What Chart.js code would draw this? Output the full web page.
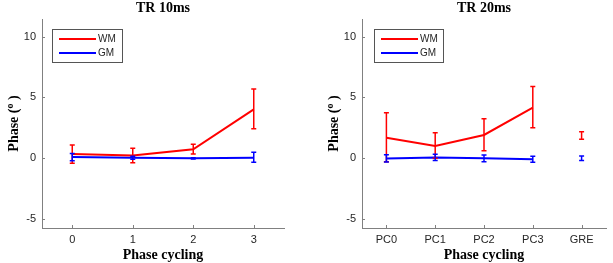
<!DOCTYPE html>
<html>
<head>
<meta charset="utf-8">
<script src="https://cdn.jsdelivr.net/npm/chart.js@4.4.0/dist/chart.umd.min.js"></script>
<style>
  html, body { margin: 0; padding: 0; background: #fff; }
  .wrap { position: absolute; top: 0; height: 263px; }
  #left { left: 0; width: 300px; }
  #right { left: 300px; width: 313px; }
</style>
</head>
<body>
<div class="wrap" id="left"><canvas id="c10"></canvas></div>
<div class="wrap" id="right"><canvas id="c20"></canvas></div>
<script>
// TR 10ms
const tr10Labels = ['0', '1', '2', '3'];
const tr10WM = [0.33, 0.2, 0.72, 4.01];
const tr10WMHi = [1.07, 0.8, 1.13, 5.69];
const tr10WMLo = [-0.44, -0.39, 0.33, 2.42];
const tr10GM = [0.08, 0.02, -0.03, 0.02];
const tr10GMHi = [0.38, 0.15, 0.02, 0.47];
const tr10GMLo = [-0.22, -0.1, -0.08, -0.35];

// TR 20ms
const tr20Labels = ['PC0', 'PC1', 'PC2', 'PC3', 'GRE'];
const tr20WM = [1.67, 1.0, 1.9, 4.15, 1.85];
const tr20WMHi = [3.73, 2.09, 3.24, 5.9, 2.17];
const tr20WMLo = [-0.3, -0.03, 0.6, 2.5, 1.54];
const tr20GM = [-0.05, 0.05, -0.03, -0.1, 0.0];
const tr20GMHi = [0.27, 0.3, 0.25, 0.15, 0.16];
const tr20GMLo = [-0.33, -0.2, -0.3, -0.35, -0.2];

const yTicks = [-5, 0, 5, 10];
const axisColor = '#808080';
const textColor = '#262626';

const errorBars = {
  id: 'errorBars',
  afterDatasetsDraw(chart, args, opts) {
    const { ctx } = chart;
    const x = chart.scales.x;
    const y = chart.scales.y;
    ctx.save();
    ctx.lineWidth = 1.5;
    opts.bars.forEach((b, di) => {
      ctx.strokeStyle = chart.data.datasets[di].borderColor;
      b.hi.forEach((hi, i) => {
        const px = x.getPixelForValue(i);
        const top = y.getPixelForValue(hi);
        const bot = y.getPixelForValue(b.lo[i]);
        ctx.beginPath();
        ctx.moveTo(px, top); ctx.lineTo(px, bot);
        ctx.moveTo(px - 2.5, top); ctx.lineTo(px + 2.5, top);
        ctx.moveTo(px - 2.5, bot); ctx.lineTo(px + 2.5, bot);
        ctx.stroke();
      });
    });
    ctx.restore();
  }
};

const decorations = {
  id: 'decorations',
  afterDraw(chart, args, opts) {
    const { ctx, chartArea } = chart;
    const x = chart.scales.x;
    const y = chart.scales.y;
    ctx.save();
    // inward tick marks
    ctx.strokeStyle = axisColor;
    ctx.lineWidth = 1;
    ctx.beginPath();
    x.ticks.forEach((t, i) => {
      const px = Math.round(x.getPixelForTick(i)) + 0.5;
      ctx.moveTo(px, chartArea.bottom); ctx.lineTo(px, chartArea.bottom - 3);
    });
    yTicks.forEach(v => {
      const py = Math.round(y.getPixelForValue(v)) + 0.5;
      ctx.moveTo(chartArea.left, py); ctx.lineTo(chartArea.left + 3, py);
    });
    ctx.stroke();

    // title
    const cx = (chartArea.left + chartArea.right) / 2;
    ctx.fillStyle = '#000';
    ctx.textAlign = 'center';
    ctx.textBaseline = 'middle';
    ctx.font = 'bold 14px "Liberation Serif"';
    ctx.fillText(opts.title, cx, 8);
    // x title
    ctx.fillText('Phase cycling', cx, 255);

    // y title, rotated, with superscript o
    ctx.save();
    ctx.translate(opts.yTitleX, (chartArea.top + chartArea.bottom) / 2);
    ctx.rotate(-Math.PI / 2);
    const a = 'Phase (';
    const c = ' )';
    ctx.font = 'bold 14px "Liberation Serif"';
    const wa = ctx.measureText(a).width;
    const wc = ctx.measureText(c).width;
    ctx.font = 'bold 10px "Liberation Serif"';
    const wb = ctx.measureText('o').width;
    let sx = -(wa + wb + wc) / 2;
    ctx.textAlign = 'left';
    ctx.font = 'bold 14px "Liberation Serif"';
    ctx.fillText(a, sx, 0);
    ctx.font = 'bold 10px "Liberation Serif"';
    ctx.fillText('o', sx + wa, -4);
    ctx.font = 'bold 14px "Liberation Serif"';
    ctx.fillText(c, sx + wa + wb, 0);
    ctx.restore();

    // legend
    const lg = opts.legend;
    ctx.fillStyle = '#fff';
    ctx.fillRect(lg.x, lg.y, lg.w, lg.h);
    ctx.strokeStyle = '#555';
    ctx.lineWidth = 1;
    ctx.strokeRect(lg.x + 0.5, lg.y + 0.5, lg.w, lg.h);
    ctx.font = '10px "Liberation Sans"';
    ctx.textAlign = 'left';
    ctx.textBaseline = 'middle';
    chart.data.datasets.forEach((ds, i) => {
      const ly = lg.y + 10 + i * 14;
      ctx.strokeStyle = ds.borderColor;
      ctx.lineWidth = 2;
      ctx.beginPath();
      ctx.moveTo(lg.x + 7, ly); ctx.lineTo(lg.x + 44, ly);
      ctx.stroke();
      ctx.fillStyle = textColor;
      ctx.fillText(ds.label, lg.x + 46, ly);
    });
    ctx.restore();
  }
};

function makeChart(id, labels, wm, gm, bars, opts) {
  return new Chart(document.getElementById(id), {
    type: 'line',
    data: {
      labels,
      datasets: [
        {
          label: 'WM', data: wm, borderColor: '#ff0000', borderWidth: 2,
          pointRadius: 0, tension: 0,
          segment: { borderColor: s => (opts.breakAt !== undefined && s.p1DataIndex === opts.breakAt) ? 'rgba(0,0,0,0)' : '#ff0000' }
        },
        {
          label: 'GM', data: gm, borderColor: '#0000ff', borderWidth: 2,
          pointRadius: 0, tension: 0,
          segment: { borderColor: s => (opts.breakAt !== undefined && s.p1DataIndex === opts.breakAt) ? 'rgba(0,0,0,0)' : '#0000ff' }
        }
      ]
    },
    options: {
      responsive: true,
      maintainAspectRatio: false,
      animation: false,
      events: [],
      layout: { padding: { top: 19, right: opts.padRight, left: 0, bottom: 0 } },
      scales: {
        x: {
          type: 'category',
          offset: true,
          grid: { display: false, drawTicks: false },
          border: { display: true, color: axisColor, width: 1 },
          ticks: { color: textColor, font: { family: 'Liberation Sans', size: 11 }, padding: 5, maxRotation: 0 },
          afterFit: s => { s.height = 35; }
        },
        y: {
          min: -5.77, max: 11.46,
          grid: { display: false, drawTicks: false },
          border: { display: true, color: axisColor, width: 1 },
          afterBuildTicks: s => { s.ticks = yTicks.map(v => ({ value: v })); },
          ticks: { color: textColor, font: { family: 'Liberation Sans', size: 11 }, padding: 6 },
          afterFit: s => { s.width = opts.yWidth; }
        }
      },
      plugins: {
        legend: { display: false },
        tooltip: { enabled: false },
        errorBars: { bars },
        decorations: { title: opts.title, yTitleX: opts.yTitleX, legend: opts.legend }
      }
    },
    plugins: [errorBars, decorations]
  });
}

makeChart('c10', tr10Labels, tr10WM, tr10GM,
  [{ hi: tr10WMHi, lo: tr10WMLo }, { hi: tr10GMHi, lo: tr10GMLo }],
  { title: 'TR 10ms', padRight: 16, yWidth: 42, yTitleX: 14, legend: { x: 52, y: 29, w: 70, h: 33 } });

makeChart('c20', tr20Labels, tr20WM, tr20GM,
  [{ hi: tr20WMHi, lo: tr20WMLo }, { hi: tr20GMHi, lo: tr20GMLo }],
  { title: 'TR 20ms', padRight: 7, yWidth: 62, yTitleX: 34, breakAt: 4, legend: { x: 74, y: 29, w: 69, h: 33 } });
</script>
</body>
</html>
